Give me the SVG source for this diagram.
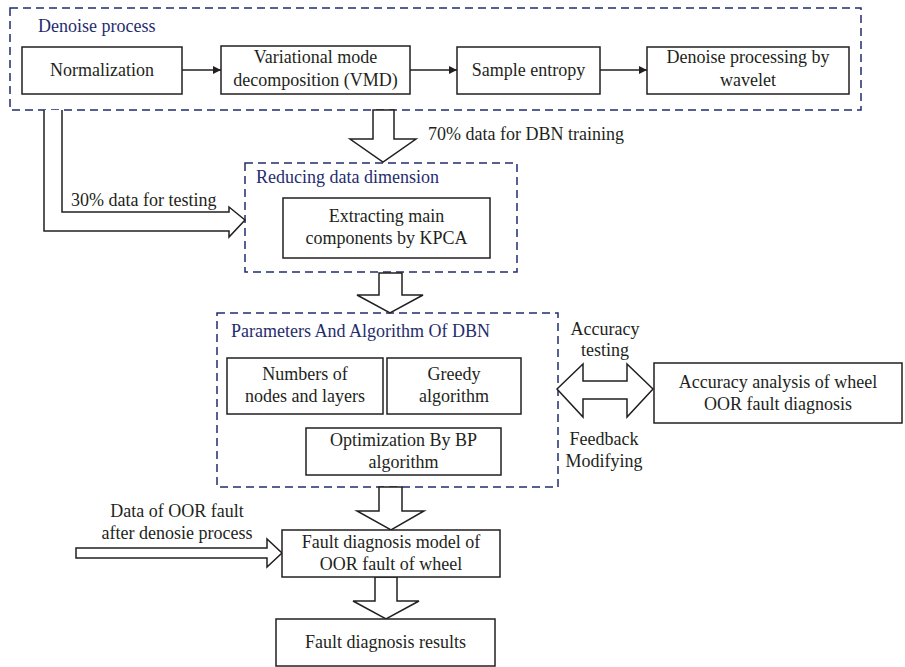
<svg xmlns="http://www.w3.org/2000/svg" width="905" height="667" viewBox="0 0 905 667">
<defs>
<style>
.t{font-family:"Liberation Serif","Times New Roman",serif;font-size:18px;fill:#231f20}
.c{text-anchor:middle}
.h{fill:#1f2d6e}
.box{fill:#fff;stroke:#231f20;stroke-width:1.5}
.grp{fill:none;stroke:#1f2d6e;stroke-width:1.5;stroke-dasharray:8,5}
.blk{fill:#fff;stroke:#231f20;stroke-width:1.5;stroke-linejoin:miter}
.ln{fill:none;stroke:#231f20;stroke-width:1.5}
</style>
<marker id="ah" viewBox="0 0 10 10" refX="10" refY="5" markerWidth="8" markerHeight="8" markerUnits="userSpaceOnUse" orient="auto">
<path d="M0,0 L10,5 L0,10 z" fill="#231f20"/>
</marker>
</defs>
<rect width="905" height="667" fill="#fff"/>

<g id="groups">
<rect id="denoise-group" class="grp" x="10" y="8" width="851" height="102"/>
<text class="t h" x="38" y="32">Denoise process</text>
<rect id="reduce-group" class="grp" x="245" y="163" width="272" height="109"/>
<text class="t h" x="256" y="183">Reducing data dimension</text>
<rect id="dbn-group" class="grp" x="217" y="313" width="341" height="174"/>
<text class="t h" x="231" y="337">Parameters And Algorithm Of DBN</text>
</g>

<g id="connectors">
<line class="ln" x1="182" y1="70" x2="221" y2="70" marker-end="url(#ah)"/>
<line class="ln" x1="410" y1="70" x2="457" y2="70" marker-end="url(#ah)"/>
<line class="ln" x1="600" y1="70" x2="647" y2="70" marker-end="url(#ah)"/>
<polygon class="blk" points="373,110 394,110 394,139 416,139 383,162 350,139 373,139"/>
<polyline class="blk" points="44,110 44,231 229,231 229,237 245,220 229,207 229,212 62,212 62,110"/>
<polygon class="blk" points="379,273 402,273 402,295 423,295 390,313 357,295 379,295"/>
<polygon class="blk" points="557,389 583,364 583,381 627,381 627,364 653,389 627,417 627,399 583,399 583,417"/>
<polygon class="blk" points="379,487 402,487 402,511 424,511 391,530 357,511 379,511"/>
<polygon class="blk" points="76,548 267,548 267,539 282,553 267,567 267,558 76,558"/>
<polygon class="blk" points="375,577 397,577 397,601 419,601 386,619 353,601 375,601"/>
<text class="t" x="428" y="140">70% data for DBN training</text>
<text class="t" x="71" y="206">30% data for testing</text>
<text class="t c" x="605" y="335">Accuracy</text>
<text class="t c" x="605" y="356">testing</text>
<text class="t c" x="604" y="445">Feedback</text>
<text class="t c" x="604" y="467">Modifying</text>
<text class="t c" x="177" y="517">Data of OOR fault</text>
<text class="t c" x="177" y="539">after denosie process</text>
</g>

<g id="normalization">
<rect class="box" x="22" y="47" width="160" height="47"/>
<text class="t c" x="102" y="76">Normalization</text>
</g>
<g id="vmd">
<rect class="box" x="221" y="46" width="189" height="48"/>
<text class="t c" x="315.5" y="63">Variational mode</text>
<text class="t c" x="315.5" y="86">decomposition (VMD)</text>
</g>
<g id="sample-entropy">
<rect class="box" x="457" y="47" width="143" height="47"/>
<text class="t c" x="528.5" y="76">Sample entropy</text>
</g>
<g id="wavelet">
<rect class="box" x="647" y="47" width="202" height="47"/>
<text class="t c" x="748" y="63">Denoise processing by</text>
<text class="t c" x="748" y="86">wavelet</text>
</g>
<g id="kpca">
<rect class="box" x="283" y="198" width="207" height="60"/>
<text class="t c" x="386.5" y="222">Extracting main</text>
<text class="t c" x="386.5" y="244">components by KPCA</text>
</g>
<g id="numbers">
<rect class="box" x="227" y="358" width="156" height="56"/>
<text class="t c" x="305" y="380">Numbers of</text>
<text class="t c" x="305" y="402">nodes and layers</text>
</g>
<g id="greedy">
<rect class="box" x="387" y="358" width="134" height="56"/>
<text class="t c" x="454" y="380">Greedy</text>
<text class="t c" x="454" y="402">algorithm</text>
</g>
<g id="bp">
<rect class="box" x="306" y="428" width="195" height="47"/>
<text class="t c" x="403.5" y="446">Optimization By BP</text>
<text class="t c" x="403.5" y="468">algorithm</text>
</g>
<g id="accuracy-analysis">
<rect class="box" x="654" y="363" width="248" height="60"/>
<text class="t c" x="778" y="388">Accuracy analysis of wheel</text>
<text class="t c" x="778" y="410">OOR fault diagnosis</text>
</g>
<g id="model">
<rect class="box" x="282" y="530" width="218" height="47"/>
<text class="t c" x="391" y="548">Fault diagnosis model of</text>
<text class="t c" x="391" y="570">OOR fault of wheel</text>
</g>
<g id="results">
<rect class="box" x="276" y="619" width="219" height="47"/>
<text class="t c" x="385.5" y="648">Fault diagnosis results</text>
</g>
</svg>
